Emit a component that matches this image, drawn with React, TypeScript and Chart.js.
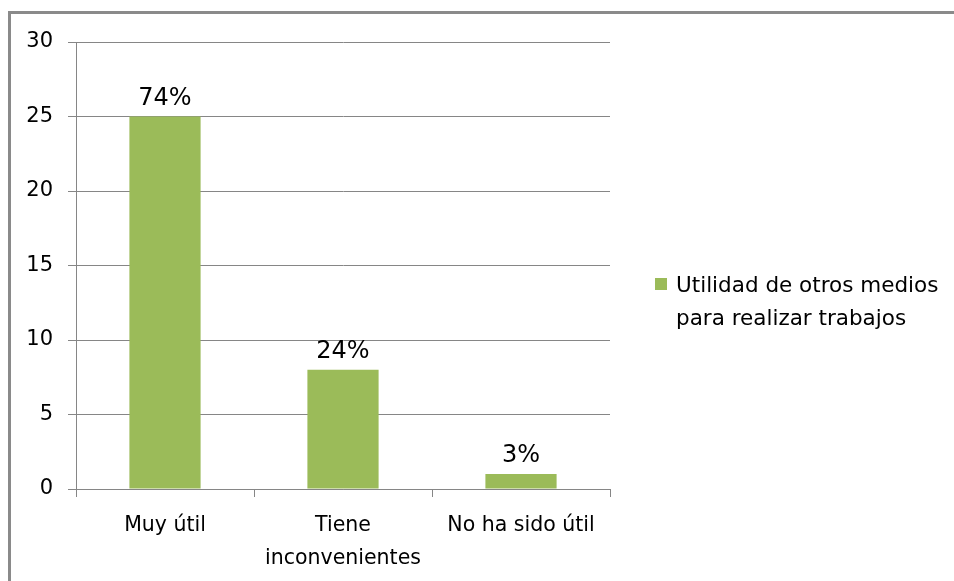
import React, { useEffect, useRef } from "react";
import { Chart, registerables } from "chart.js";

Chart.register(...registerables);

const categories: string[][] = [["Muy útil"], ["Tiene", "inconvenientes"], ["No ha sido útil"]];
const values: number[] = [25, 8, 1];
const percentLabels: string[] = ["74%", "24%", "3%"];
const seriesName = "Utilidad de otros medios para realizar trabajos";
const legendLines: string[] = ["Utilidad de otros medios", "para realizar trabajos"];
const yMin = 0;
const yMax = 30;
const yStep = 5;

const BAR_COLOR = "#9BBB59";
const GRID = "#868686";
const FONT = "'DejaVu Sans', sans-serif";

const framePlugin = {
  id: "frame",
  beforeDraw(chart: any) {
    const ctx = chart.ctx;
    ctx.save();
    ctx.fillStyle = "#ffffff";
    ctx.fillRect(0, 0, chart.width, chart.height);
    ctx.fillStyle = "#8a8a8a";
    ctx.fillRect(8, 11, chart.width - 8, 3);
    ctx.fillRect(8, 11, 3, chart.height - 11);
    ctx.restore();
  },
};

const labelPlugin = {
  id: "pctLabels",
  afterDatasetsDraw(chart: any) {
    const ctx = chart.ctx;
    const meta = chart.getDatasetMeta(0);
    ctx.save();
    ctx.fillStyle = "#000";
    ctx.font = `24px ${FONT}`;
    ctx.textAlign = "center";
    ctx.textBaseline = "alphabetic";
    meta.data.forEach((bar: any, i: number) => {
      ctx.fillText(percentLabels[i], bar.x, bar.y - 12);
    });
    ctx.restore();
  },
};

const legendPlugin = {
  id: "customLegend",
  afterDraw(chart: any) {
    const ctx = chart.ctx;
    ctx.save();
    ctx.fillStyle = BAR_COLOR;
    ctx.fillRect(655, 278, 12, 12);
    ctx.fillStyle = "#000";
    ctx.font = `21.5px ${FONT}`;
    ctx.textAlign = "left";
    ctx.textBaseline = "alphabetic";
    legendLines.forEach((line, i) => {
      ctx.fillText(line, 676, 292 + i * 33);
    });
    ctx.restore();
  },
};

export default function App() {
  const ref = useRef<HTMLCanvasElement | null>(null);
  useEffect(() => {
    if (!ref.current) return;
    const chart = new Chart(ref.current, {
      type: "bar",
      data: {
        labels: categories,
        datasets: [
          {
            label: seriesName,
            data: values,
            backgroundColor: BAR_COLOR,
            borderWidth: 0,
            barPercentage: 0.4,
            categoryPercentage: 1,
          },
        ],
      },
      options: {
        responsive: false,
        animation: false,
        layout: { padding: { left: 0, top: 42, right: 344, bottom: 0 } },
        plugins: {
          legend: { display: false },
          tooltip: { enabled: false },
        },
        scales: {
          x: {
            offset: true,
            grid: {
              offset: true,
              drawOnChartArea: false,
              drawTicks: true,
              tickLength: 8,
              color: GRID,
            },
            border: { display: true, color: GRID },
            ticks: {
              color: "#000",
              font: { family: FONT, size: 20.5, lineHeight: 1.6 },
              padding: 12,
              maxRotation: 0,
              autoSkip: false,
            },
            afterFit(scale: any) {
              scale.height = 92;
            },
          },
          y: {
            min: yMin,
            max: yMax,
            grid: { color: GRID, tickLength: 8, drawTicks: true },
            border: { display: true, color: GRID },
            ticks: {
              stepSize: yStep,
              color: "#000",
              font: { family: FONT, size: 21 },
              padding: 15,
            },
            afterFit(scale: any) {
              scale.width = 76;
            },
          },
        },
      },
      plugins: [framePlugin, labelPlugin, legendPlugin],
    });
    return () => chart.destroy();
  }, []);
  return (
    <div style={{ position: "fixed", left: 0, top: 0, width: 954, height: 581, overflow: "hidden", background: "#fff" }}>
      <canvas ref={ref} width={954} height={581} style={{ display: "block", width: 954, height: 581 }} />
    </div>
  );
}
